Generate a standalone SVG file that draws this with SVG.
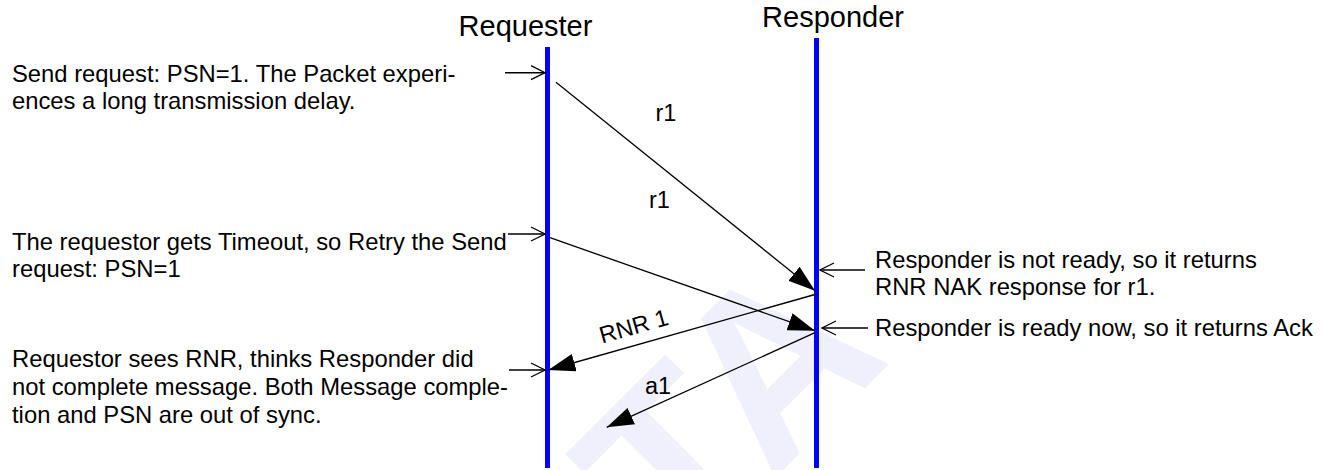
<svg xmlns="http://www.w3.org/2000/svg" width="1331" height="470" viewBox="0 0 1331 470">
<style>
text{font-family:"Liberation Sans",Arial,sans-serif;fill:#000}
.title{font-size:29px}
.note{font-size:23.8px}
.lbl{font-size:23.5px}
.life{stroke:#0000FF;stroke-width:5}
.msg{stroke:#000;stroke-width:1.3;fill:none}
.ptr{stroke:#000;stroke-width:1.6;fill:none}
.wm{font-family:"Liberation Sans",Arial,sans-serif;font-weight:bold;font-size:240px;fill:#F0F0FC}
</style>
<defs>
<marker id="solid" viewBox="0 0 27 18" refX="27" refY="9" markerWidth="27" markerHeight="18" orient="auto" markerUnits="userSpaceOnUse">
<path d="M0,0 L27,9 L0,18 Z" fill="#000"/>
</marker>
<marker id="open" viewBox="0 0 16 16" refX="15" refY="8" markerWidth="16" markerHeight="16" orient="auto" markerUnits="userSpaceOnUse">
<path d="M1,1 L15,8 L1,15" fill="none" stroke="#000" stroke-width="1.3"/>
</marker>
</defs>
<rect width="1331" height="470" fill="#fff"/>
<g id="watermark">
<text class="wm" transform="translate(680,573) rotate(-45)">TA</text>
</g>
<g id="requester">
<text class="title" x="525.5" y="36" text-anchor="middle">Requester</text>
<line class="life" x1="547.5" y1="47" x2="547.5" y2="468"/>
</g>
<g id="responder">
<text class="title" x="833" y="27" text-anchor="middle">Responder</text>
<line class="life" x1="816.5" y1="38" x2="816.5" y2="468"/>
</g>
<g id="note-send">
<text class="note" x="12" y="82">Send request: PSN=1. The Packet experi-</text>
<text class="note" x="12" y="109">ences a long transmission delay.</text>
</g>
<g id="note-timeout">
<text class="note" x="12" y="250">The requestor gets Timeout, so Retry the Send</text>
<text class="note" x="12" y="277">request: PSN=1</text>
</g>
<g id="note-rnr">
<text class="note" x="12" y="367">Requestor sees RNR, thinks Responder did</text>
<text class="note" x="12" y="395">not complete message. Both Message comple-</text>
<text class="note" x="12" y="422.5">tion and PSN are out of sync.</text>
</g>
<g id="note-notready">
<text class="note" x="875" y="268">Responder is not ready, so it returns</text>
<text class="note" x="875" y="295">RNR NAK response for r1.</text>
</g>
<g id="note-ready">
<text class="note" x="875" y="336">Responder is ready now, so it returns Ack</text>
</g>
<g id="connectors">
<line class="ptr" x1="505" y1="72.7" x2="545" y2="72.7" marker-end="url(#open)"/>
<line class="ptr" x1="508" y1="234" x2="545" y2="234" marker-end="url(#open)"/>
<line class="ptr" x1="509" y1="370" x2="545" y2="370" marker-end="url(#open)"/>
<line class="ptr" x1="865" y1="270" x2="820" y2="270" marker-end="url(#open)"/>
<line class="ptr" x1="868" y1="328" x2="822" y2="328" marker-end="url(#open)"/>
<line class="msg" x1="556" y1="82.3" x2="815" y2="290.7" marker-end="url(#solid)"/>
<line class="msg" x1="550" y1="237.7" x2="815" y2="330.7" marker-end="url(#solid)"/>
<line class="msg" x1="816.7" y1="294" x2="548.3" y2="370" marker-end="url(#solid)"/>
<line class="msg" x1="815" y1="332.7" x2="606.7" y2="427.3" marker-end="url(#solid)"/>
<text class="lbl" x="666" y="121" text-anchor="middle">r1</text>
<text class="lbl" x="659.5" y="207.5" text-anchor="middle">r1</text>
<text class="lbl" x="0" y="0" text-anchor="middle" transform="translate(636,334) rotate(-15.8)">RNR 1</text>
<text class="lbl" x="658" y="394" text-anchor="middle">a1</text>
</g>
</svg>
